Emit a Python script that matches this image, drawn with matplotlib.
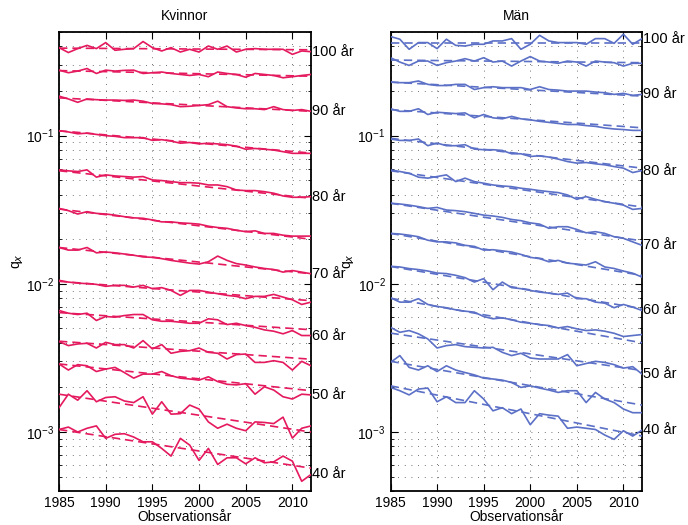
import matplotlib
matplotlib.use("Agg")
import matplotlib.pyplot as plt
from matplotlib.ticker import LogLocator, NullFormatter
import numpy as np

plt.rcParams['font.family'] = ['Liberation Sans', 'DejaVu Sans']
plt.rcParams['font.size'] = 10

# observationsår
years = list(range(1985, 2013))
ages = [100, 95, 90, 85, 80, 75, 70, 65, 60, 55, 50, 45, 40]
labeled_ages = [100, 90, 80, 70, 60, 50, 40]

# Kvinnor, observerade q_x
kv_100 = [0.393, 0.364, 0.387, 0.407, 0.387, 0.425, 0.377, 0.383, 0.387, 0.432, 0.393, 0.373, 0.393, 0.367,
          0.383, 0.367, 0.403, 0.383, 0.403, 0.367, 0.383, 0.387, 0.383, 0.383, 0.383, 0.354, 0.373, 0.369]
kv_95 = [0.277, 0.266, 0.273, 0.284, 0.263, 0.277, 0.273, 0.276, 0.277, 0.263, 0.266, 0.269, 0.263, 0.259,
         0.255, 0.259, 0.250, 0.269, 0.263, 0.259, 0.248, 0.263, 0.259, 0.255, 0.246, 0.250, 0.255, 0.259]
kv_90 = [0.185, 0.177, 0.168, 0.177, 0.175, 0.174, 0.174, 0.173, 0.174, 0.171, 0.165, 0.164, 0.162, 0.157,
         0.158, 0.160, 0.162, 0.171, 0.157, 0.154, 0.152, 0.152, 0.150, 0.157, 0.150, 0.148, 0.150, 0.146]
kv_85 = [0.108, 0.106, 0.103, 0.104, 0.102, 0.100, 0.099, 0.097, 0.097, 0.097, 0.093, 0.094, 0.092, 0.089,
         0.090, 0.088, 0.089, 0.088, 0.087, 0.085, 0.081, 0.082, 0.081, 0.080, 0.078, 0.076, 0.076, 0.076]
kv_80 = [0.0588, 0.0579, 0.0573, 0.0588, 0.0525, 0.0544, 0.0535, 0.0530, 0.0525, 0.0530, 0.0503, 0.0498,
         0.0490, 0.0482, 0.0482, 0.0478, 0.0465, 0.0465, 0.0453, 0.0430, 0.0426, 0.0426, 0.0419, 0.0409,
         0.0392, 0.0384, 0.0384, 0.0388]
kv_75 = [0.0323, 0.0312, 0.0296, 0.0307, 0.0299, 0.0296, 0.0291, 0.0284, 0.0279, 0.0277, 0.0270, 0.0262,
         0.0262, 0.0258, 0.0256, 0.0253, 0.0245, 0.0240, 0.0237, 0.0230, 0.0225, 0.0228, 0.0219, 0.0219,
         0.0213, 0.0210, 0.0210, 0.0210]
kv_70 = [0.0176, 0.0169, 0.0169, 0.0176, 0.0162, 0.0164, 0.0162, 0.0159, 0.0156, 0.0152, 0.0151, 0.0148,
         0.0144, 0.0141, 0.0138, 0.0136, 0.0141, 0.0154, 0.0144, 0.0137, 0.0134, 0.0130, 0.0127, 0.0125,
         0.0120, 0.0123, 0.0120, 0.0117]
kv_65 = [0.01056, 0.01028, 0.01012, 0.01003, 0.00992, 0.00962, 0.00977, 0.00977, 0.00951, 0.00977, 0.00928,
         0.00943, 0.00903, 0.00836, 0.00903, 0.00903, 0.00880, 0.00858, 0.00836, 0.00823, 0.00794, 0.00823,
         0.00823, 0.00849, 0.00814, 0.00781, 0.00726, 0.00753]
kv_60 = [0.00661, 0.00634, 0.00621, 0.00634, 0.00566, 0.00602, 0.00596, 0.00611, 0.00621, 0.00621, 0.00572,
         0.00559, 0.00559, 0.00551, 0.00542, 0.00542, 0.00581, 0.00572, 0.00531, 0.00542, 0.00523, 0.00509,
         0.00489, 0.00479, 0.00460, 0.00484, 0.00448, 0.00448]
kv_55 = [0.00408, 0.00383, 0.00393, 0.00397, 0.00369, 0.00403, 0.00389, 0.00389, 0.00369, 0.00414, 0.00364,
         0.00389, 0.00340, 0.00350, 0.00354, 0.00369, 0.00345, 0.00340, 0.00311, 0.00333, 0.00336, 0.00295,
         0.00295, 0.00303, 0.00295, 0.00262, 0.00300, 0.00280]
kv_50 = [0.00288, 0.00262, 0.00285, 0.00280, 0.00256, 0.00266, 0.00273, 0.00252, 0.00231, 0.00246, 0.00246,
         0.00256, 0.00240, 0.00231, 0.00228, 0.00224, 0.00236, 0.00219, 0.00210, 0.00208, 0.00212, 0.00180,
         0.00202, 0.00192, 0.00173, 0.00167, 0.00180, 0.00178]
kv_45 = [0.00146, 0.00180, 0.00164, 0.00190, 0.00160, 0.00171, 0.00173, 0.00162, 0.00158, 0.00173, 0.00132,
         0.00160, 0.00132, 0.00133, 0.00152, 0.00143, 0.00117, 0.00106, 0.00113, 0.00106, 0.00102, 0.00117,
         0.00116, 0.00114, 0.00126, 0.00091, 0.00106, 0.00110]
kv_40 = [0.00104, 0.00108, 0.00100, 0.00106, 0.00110, 0.000906, 0.000965, 0.000974, 0.000925, 0.000859,
         0.000859, 0.000775, 0.000688, 0.000906, 0.000816, 0.000643, 0.000775, 0.000604, 0.000670, 0.000670,
         0.000610, 0.000670, 0.000620, 0.000629, 0.000688, 0.000636, 0.000465, 0.000517]

# Kvinnor, skattad trend (1985 -> 2012)
kv_trend_start = [0.390, 0.275, 0.180, 0.108, 0.058, 0.032, 0.0176, 0.0104, 0.0064, 0.0041, 0.00288, 0.0018, 0.00104]
kv_trend_end = [0.380, 0.252, 0.146, 0.0763, 0.0378, 0.0200, 0.0117, 0.0077, 0.0049, 0.0031, 0.00190, 0.00100, 0.00057]

# Män, observerade q_x
man_100 = [0.467, 0.448, 0.383, 0.425, 0.425, 0.387, 0.448, 0.407, 0.403, 0.414, 0.414, 0.436, 0.436, 0.452,
           0.383, 0.414, 0.476, 0.436, 0.425, 0.425, 0.425, 0.414, 0.452, 0.452, 0.420, 0.484, 0.414, 0.452]
man_95 = [0.336, 0.314, 0.298, 0.319, 0.319, 0.298, 0.311, 0.319, 0.331, 0.319, 0.336, 0.314, 0.319, 0.295,
          0.319, 0.342, 0.319, 0.314, 0.308, 0.319, 0.314, 0.295, 0.319, 0.314, 0.311, 0.295, 0.308, 0.308]
man_90 = [0.230, 0.228, 0.228, 0.234, 0.222, 0.218, 0.218, 0.222, 0.222, 0.205, 0.211, 0.214, 0.211, 0.211,
          0.211, 0.205, 0.214, 0.205, 0.203, 0.200, 0.200, 0.200, 0.197, 0.195, 0.190, 0.193, 0.187, 0.190]
man_85 = [0.152, 0.146, 0.146, 0.152, 0.139, 0.144, 0.1425, 0.141, 0.1425, 0.132, 0.139, 0.132, 0.130, 0.135,
          0.130, 0.128, 0.125, 0.123, 0.121, 0.119, 0.119, 0.117, 0.1156, 0.1128, 0.111, 0.110, 0.1086, 0.1086]
man_80 = [0.0950, 0.0929, 0.0929, 0.0950, 0.0856, 0.0892, 0.0856, 0.0856, 0.0869, 0.0812, 0.0804, 0.0804,
          0.0795, 0.0755, 0.0755, 0.0724, 0.0732, 0.0717, 0.0695, 0.0669, 0.0653, 0.0659, 0.0646, 0.0636,
          0.0619, 0.0604, 0.0564, 0.0582]
man_75 = [0.0588, 0.0573, 0.0558, 0.0525, 0.0517, 0.0530, 0.0544, 0.0490, 0.0517, 0.0490, 0.0478, 0.0465,
          0.0458, 0.0453, 0.0442, 0.0435, 0.0426, 0.0419, 0.0413, 0.0398, 0.0372, 0.0388, 0.0372, 0.0359,
          0.0350, 0.0340, 0.0318, 0.0323]
man_70 = [0.0350, 0.0346, 0.0340, 0.0332, 0.0323, 0.0328, 0.0315, 0.0312, 0.0307, 0.0299, 0.0291, 0.0287,
          0.0281, 0.0272, 0.0267, 0.0258, 0.0253, 0.0237, 0.0243, 0.0243, 0.0233, 0.0221, 0.0225, 0.0219,
          0.0208, 0.0203, 0.0192, 0.0182]
man_65 = [0.0219, 0.0217, 0.0213, 0.0208, 0.0197, 0.0192, 0.0192, 0.0189, 0.0182, 0.0179, 0.0169, 0.0170,
          0.0167, 0.0164, 0.0158, 0.0151, 0.0148, 0.0141, 0.0144, 0.0138, 0.0136, 0.0134, 0.0141, 0.0130,
          0.0127, 0.0122, 0.0118, 0.0111]
man_60 = [0.01314, 0.01300, 0.01268, 0.01248, 0.01221, 0.01183, 0.01173, 0.01142, 0.01101, 0.01028, 0.01085,
          0.00913, 0.01028, 0.00943, 0.00928, 0.00903, 0.00880, 0.00866, 0.00849, 0.00866, 0.00794, 0.00794,
          0.00753, 0.00741, 0.00690, 0.00726, 0.00697, 0.00661]
man_55 = [0.00806, 0.00753, 0.00753, 0.00794, 0.00726, 0.00704, 0.00690, 0.00668, 0.00654, 0.00644, 0.00602,
          0.00581, 0.00590, 0.00572, 0.00551, 0.00542, 0.00531, 0.00523, 0.00504, 0.00515, 0.00497, 0.00484,
          0.00489, 0.00479, 0.00464, 0.00441, 0.00448, 0.00455]
man_50 = [0.00509, 0.00471, 0.00484, 0.00460, 0.00425, 0.00369, 0.00383, 0.00389, 0.00377, 0.00373, 0.00369,
          0.00373, 0.00345, 0.00328, 0.00340, 0.00316, 0.00311, 0.00311, 0.00311, 0.00333, 0.00280, 0.00290,
          0.00300, 0.00295, 0.00285, 0.00270, 0.00276, 0.00246]
man_45 = [0.00295, 0.00328, 0.00273, 0.00262, 0.00280, 0.00256, 0.00280, 0.00262, 0.00252, 0.00243, 0.00231,
          0.00228, 0.00224, 0.00216, 0.00200, 0.00205, 0.00198, 0.00192, 0.00185, 0.00190, 0.00190, 0.00158,
          0.00185, 0.00167, 0.00158, 0.00143, 0.00135, 0.00135]
man_40 = [0.00200, 0.00190, 0.00178, 0.00195, 0.00198, 0.00160, 0.00173, 0.00158, 0.00158, 0.00190, 0.00167,
          0.00139, 0.00146, 0.00133, 0.00143, 0.00112, 0.00133, 0.00130, 0.00128, 0.00106, 0.00108, 0.00106,
          0.00104, 0.000954, 0.000892, 0.00102, 0.000939, 0.00103]

# Män, skattad trend (1985 -> 2012)
man_trend_start = [0.425, 0.324, 0.230, 0.150, 0.096, 0.058, 0.035, 0.0219, 0.0131, 0.0080, 0.00465, 0.0030, 0.00205]
man_trend_end = [0.425, 0.311, 0.185, 0.113, 0.0604, 0.033, 0.0195, 0.0114, 0.0068, 0.0040, 0.0026, 0.00152, 0.00094]

kv_obs = [kv_100, kv_95, kv_90, kv_85, kv_80, kv_75, kv_70, kv_65, kv_60, kv_55, kv_50, kv_45, kv_40]
man_obs = [man_100, man_95, man_90, man_85, man_80, man_75, man_70, man_65, man_60, man_55, man_50, man_45, man_40]

red = '#e5195e'
blue = '#5b70c6'

fig = plt.figure(figsize=(6.88, 5.25), dpi=100)
ax1 = fig.add_axes([0.0858, 0.0648, 0.3663, 0.874])
ax2 = fig.add_axes([0.5676, 0.0648, 0.3656, 0.874])

panels = [(ax1, 'Kvinnor', kv_obs, kv_trend_start, kv_trend_end, red),
          (ax2, 'Män', man_obs, man_trend_start, man_trend_end, blue)]

for ax, title, obs, t0, t1, col in panels:
    for i, age in enumerate(ages):
        ax.plot(years, obs[i], color=col, lw=1.2, zorder=3)
        ax.plot([years[0], years[-1]], [t0[i], t1[i]], color=col, lw=1.2,
                linestyle=(0, (5, 3)), zorder=3)
        if age in labeled_ages:
            ax.annotate('%d år' % age, xy=(years[-1], obs[i][-1]), xytext=(1, 0),
                        textcoords='offset points', ha='left', va='center',
                        fontsize=10.5, annotation_clip=False)

    ax.set_yscale('log')
    ax.set_xlim(1985, 2012)
    ax.set_ylim(4e-4, 0.5)
    ax.set_xticks([1985, 1990, 1995, 2000, 2005, 2010])
    ax.yaxis.set_major_locator(LogLocator(base=10, numticks=10))
    ax.yaxis.set_minor_locator(LogLocator(base=10, subs=np.arange(2, 10), numticks=10))
    ax.yaxis.set_minor_formatter(NullFormatter())
    ax.grid(True, which='major', axis='x', color='#444444', lw=0.6, linestyle=(0, (1, 7)))
    ax.grid(True, which='both', axis='y', color='#444444', lw=0.6, linestyle=(0, (1, 7)))
    ax.tick_params(which='both', direction='in', top=True, right=True, labelsize=10)
    ax.tick_params(which='major', length=5, width=0.8)
    ax.tick_params(which='minor', length=2.5, width=0.6)
    for sp in ax.spines.values():
        sp.set_linewidth(1.3)
    ax.set_title(title, fontsize=10, pad=9)
    ax.set_xlabel('Observationsår', fontsize=10, labelpad=0)
    ax.set_ylabel('q$_x$', fontsize=10, labelpad=1)

fig.savefig('out.png', dpi=100)
